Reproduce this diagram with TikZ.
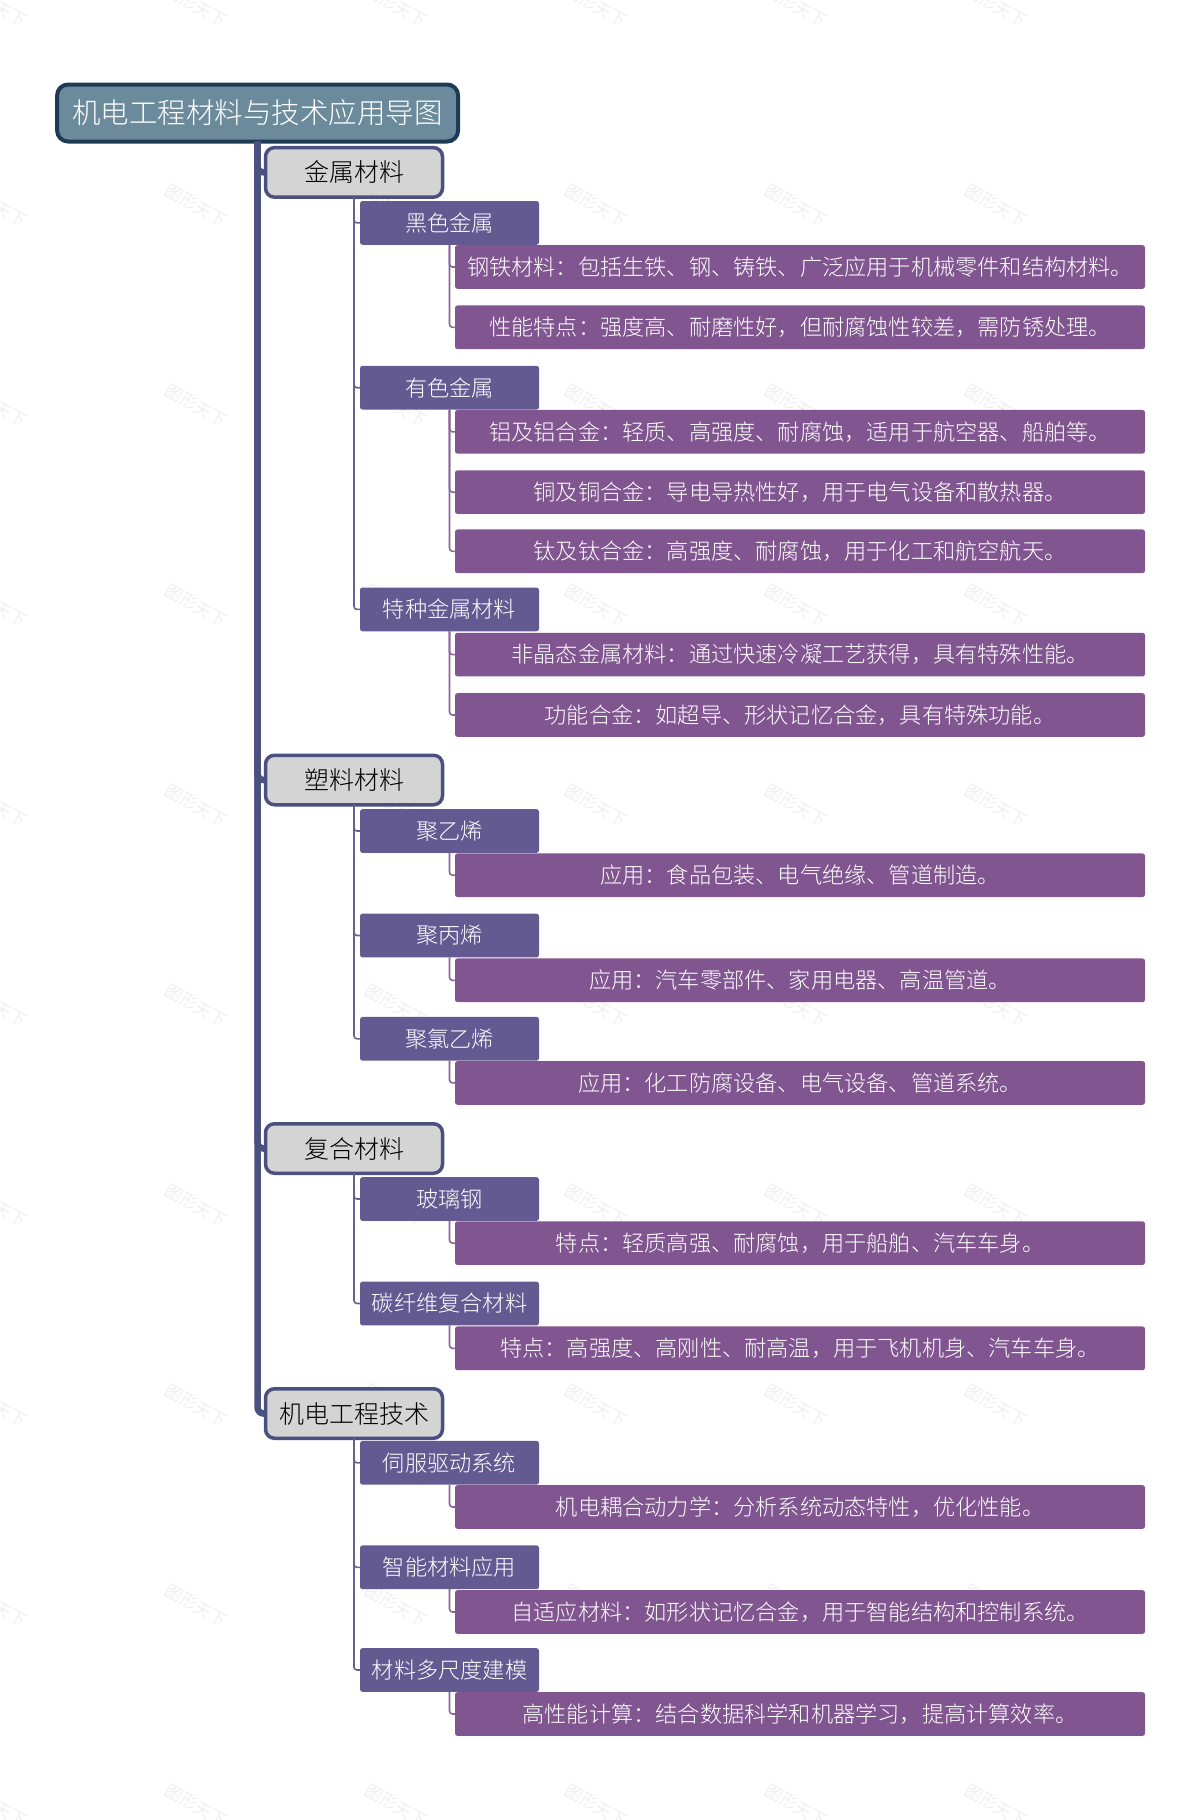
\documentclass[tikz,border=0pt]{standalone}
\usepackage{fontspec}
\setmainfont{Noto Sans CJK SC Light}
\usetikzlibrary{calc}
\definecolor{rootfill}{HTML}{6B8B9C}
\definecolor{rootline}{HTML}{1E3A55}
\definecolor{trunk}{HTML}{4A5080}
\definecolor{midfill}{HTML}{D4D4D4}
\definecolor{secfill}{HTML}{645A92}
\definecolor{leaffill}{HTML}{805590}
\definecolor{secline}{HTML}{6A6090}
\definecolor{leafline}{HTML}{8A6597}
\definecolor{wm}{HTML}{E9E9E9}
\tikzset{
  x=1pt,y=-1pt,
  rootbox/.style={draw=rootline,line width=4pt,fill=rootfill,rounded corners=11pt,text=white,inner sep=0pt,outer sep=0pt,minimum width=401pt,minimum height=57pt,font=\fontsize{28.5}{32}\selectfont},
  midbox/.style={draw=trunk,line width=3.5pt,fill=midfill,rounded corners=9pt,text=black,inner sep=0pt,outer sep=0pt,minimum width=177pt,minimum height=49.5pt,font=\fontsize{25}{30}\selectfont},
  secbox/.style={fill=secfill,rounded corners=2.5pt,text=white,inner sep=0pt,outer sep=0pt,minimum width=179pt,minimum height=43.7pt,font=\fontsize{22.2}{26}\selectfont},
  leafbox/.style={fill=leaffill,rounded corners=2.5pt,text=white,inner sep=0pt,outer sep=0pt,minimum width=690pt,minimum height=43.7pt,font=\fontsize{22.2}{26}\selectfont},
  trunkline/.style={draw=trunk,line width=6.5pt,rounded corners=6pt},
  secconn/.style={draw=secline,line width=1.6pt,rounded corners=3pt},
  leafconn/.style={draw=leafline,line width=1.6pt,rounded corners=3pt},
  mark text/.style={text=wm,rotate=-30,font=\fontsize{17}{20}\selectfont,inner sep=0pt},
}
\newcommand{\secnode}[3]{\node[secbox] (#1) at (449.5,#2) {\raisebox{-0.7pt}{#3}};}
\newcommand{\leafnode}[3]{\node[leafbox] (#1) at (800,#2) {\raisebox{-0.7pt}{#3}};}
\newcommand{\midnode}[3]{\node[midbox] (#1) at (354,#2) {\raisebox{-0.4pt}{#3}};}
\begin{document}
\begin{tikzpicture}
\useasboundingbox (0,0) rectangle (1200,1820);
\fill[white] (0,0) rectangle (1200,1820);
\foreach \yy in {6,206,406,606,806,1006,1206,1406,1606,1806}
  \foreach \xx in {-4,196,396,596,796,996}
    \node[mark text] at (\xx,\yy) {图形天下};
\node[rootbox] (root) at (257.6,113) {\raisebox{-0.5pt}{机电工程材料与技术应用导图}};
\midnode{m1}{172.4}{金属材料}
\midnode{m2}{780}{塑料材料}
\midnode{m3}{1148.5}{复合材料}
\midnode{m4}{1413.5}{机电工程技术}
\secnode{s1}{222.9}{黑色金属}
\secnode{s2}{387.7}{有色金属}
\secnode{s3}{609.4}{特种金属材料}
\secnode{s4}{831}{聚乙烯}
\secnode{s5}{935.5}{聚丙烯}
\secnode{s6}{1038.8}{聚氯乙烯}
\secnode{s7}{1199}{玻璃钢}
\secnode{s8}{1303.5}{碳纤维复合材料}
\secnode{s9}{1462.8}{伺服驱动系统}
\secnode{s10}{1567.3}{智能材料应用}
\secnode{s11}{1670}{材料多尺度建模}
\leafnode{a1}{267}{钢铁材料：包括生铁、钢、铸铁、广泛应用于机械零件和结构材料。}
\leafnode{a2}{327.3}{性能特点：强度高、耐磨性好，但耐腐蚀性较差，需防锈处理。}
\leafnode{b1}{431.8}{铝及铝合金：轻质、高强度、耐腐蚀，适用于航空器、船舶等。}
\leafnode{b2}{492.1}{铜及铜合金：导电导热性好，用于电气设备和散热器。}
\leafnode{b3}{551.3}{钛及钛合金：高强度、耐腐蚀，用于化工和航空航天。}
\leafnode{c1}{654.6}{非晶态金属材料：通过快速冷凝工艺获得，具有特殊性能。}
\leafnode{c2}{715}{功能合金：如超导、形状记忆合金，具有特殊功能。}
\leafnode{d1}{875.2}{应用：食品包装、电气绝缘、管道制造。}
\leafnode{e1}{980.3}{应用：汽车零部件、家用电器、高温管道。}
\leafnode{f1}{1082.9}{应用：化工防腐设备、电气设备、管道系统。}
\leafnode{g1}{1243.1}{特点：轻质高强、耐腐蚀，用于船舶、汽车车身。}
\leafnode{h1}{1348.3}{特点：高强度、高刚性、耐高温，用于飞机机身、汽车车身。}
\leafnode{i1}{1507}{机电耦合动力学：分析系统动态特性，优化性能。}
\leafnode{j1}{1612}{自适应材料：如形状记忆合金，用于智能结构和控制系统。}
\leafnode{k1}{1714}{高性能计算：结合数据科学和机器学习，提高计算效率。}
\foreach \p/\c in {root/m1,root/m2,root/m3,root/m4}
  \draw[trunkline] (\p.south) |- (\c.west);
\foreach \p/\c in {m1/s1,m1/s2,m1/s3,m2/s4,m2/s5,m2/s6,m3/s7,m3/s8,m4/s9,m4/s10,m4/s11}
  \draw[secconn] (\p.south) |- (\c.west);
\foreach \p/\c in {s1/a1,s1/a2,s2/b1,s2/b2,s2/b3,s3/c1,s3/c2,s4/d1,s5/e1,s6/f1,s7/g1,s8/h1,s9/i1,s10/j1,s11/k1}
  \draw[leafconn] (\p.south) |- (\c.west);
\end{tikzpicture}
\end{document}
